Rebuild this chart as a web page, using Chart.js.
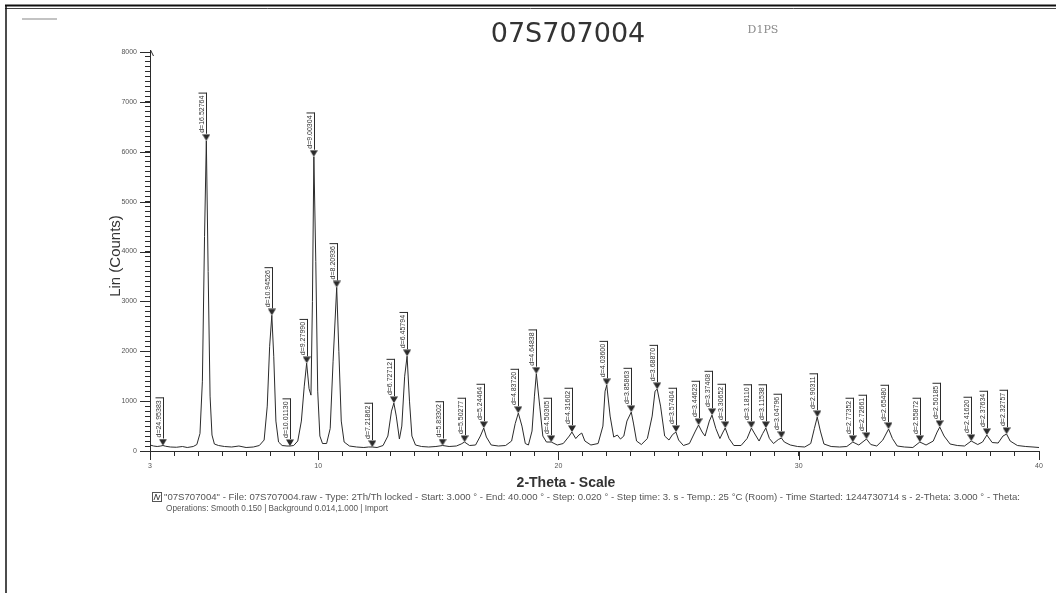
<!DOCTYPE html>
<html>
<head>
<meta charset="utf-8">
<title>07S707004</title>
<script src="https://cdn.jsdelivr.net/npm/chart.js@4/dist/chart.umd.min.js"></script>
<style>
  html, body { margin: 0; padding: 0; background: #ffffff; }
  #wrap { position: relative; width: 1056px; height: 593px; }
  canvas { display: block; }
</style>
</head>
<body>
<div id="wrap"><canvas id="xrd" width="1056" height="593"></canvas></div>
<script>
// ---- data ---------------------------------------------------------------
const sampleName = '07S707004';
const wavelength = 1.5406;           // Cu K-alpha1, Angstrom
const xTickLabels = [3, 10, 20, 30, 40];
const yTickLabels = [0, 1000, 2000, 3000, 4000, 5000, 6000, 7000, 8000];

// measured trace: 2-theta (deg) and Lin (Counts)
const profileTheta = [
  3.00, 3.15, 3.30, 3.45, 3.54, 3.65, 3.85, 4.10, 4.35, 4.55, 4.80, 4.95,
  5.08, 5.18, 5.27, 5.345, 5.42, 5.50, 5.58, 5.68, 5.85, 6.10, 6.40, 6.70,
  7.00, 7.30, 7.55, 7.75, 7.88, 7.98, 8.07, 8.15, 8.24, 8.35, 8.50, 8.70,
  8.83, 8.98, 9.15, 9.30, 9.42, 9.52, 9.62, 9.70, 9.76, 9.82, 9.90, 9.98,
  10.07, 10.18, 10.35, 10.50, 10.62, 10.77, 10.86, 10.96, 11.08, 11.30, 11.60, 11.90,
  12.10, 12.25, 12.45, 12.70, 12.90, 13.05, 13.15, 13.25, 13.38, 13.48, 13.60, 13.70,
  13.80, 13.90, 14.05, 14.30, 14.60, 14.90, 15.18, 15.45, 15.75, 15.95, 16.09, 16.30,
  16.55, 16.75, 16.89, 17.00, 17.20, 17.50, 17.80, 18.05, 18.20, 18.33, 18.48, 18.62,
  18.75, 18.90, 19.00, 19.08, 19.22, 19.35, 19.50, 19.70, 19.95, 20.20, 20.45, 20.56,
  20.72, 20.85, 20.97, 21.10, 21.35, 21.65, 21.85, 21.94, 22.01, 22.15, 22.30, 22.45,
  22.58, 22.72, 22.85, 23.03, 23.12, 23.25, 23.45, 23.70, 23.90, 24.02, 24.11, 24.25,
  24.42, 24.60, 24.75, 24.89, 25.00, 25.20, 25.45, 25.70, 25.83, 25.98, 26.10, 26.28,
  26.39, 26.55, 26.72, 26.85, 26.94, 27.10, 27.30, 27.60, 27.85, 28.03, 28.20, 28.35,
  28.50, 28.63, 28.78, 28.95, 29.15, 29.28, 29.40, 29.65, 29.95, 30.25, 30.50, 30.65,
  30.77, 30.90, 31.05, 31.35, 31.70, 32.00, 32.25, 32.50, 32.82, 33.00, 33.25, 33.50,
  33.74, 33.90, 34.10, 34.40, 34.75, 35.04, 35.30, 35.60, 35.76, 35.87, 36.05, 36.30,
  36.60, 36.90, 37.18, 37.45, 37.65, 37.83, 38.05, 38.30, 38.50, 38.65, 38.80, 39.10,
  39.45, 39.75, 40.00
];
const profileCounts = [
  120, 100, 90, 100, 110, 95, 80, 75, 90, 70, 90, 130,
  350, 1400, 4300, 6220, 3600, 1100, 320, 140, 110, 90, 80, 100,
  70, 80, 110, 220, 900, 2100, 2720, 1900, 600, 180, 110, 100,
  100, 110, 200, 600, 1300, 1760, 1250, 1120, 3000, 5900, 3800, 1200,
  300, 150, 150, 450, 1800, 3280, 2000, 600, 180, 100, 80, 70,
  80, 80, 70, 110, 300, 800, 960, 700, 240, 500, 1500, 1900,
  1000, 300, 120, 90, 80, 90, 110, 90, 100, 140, 180, 110,
  120, 300, 460, 280, 120, 100, 110, 200, 550, 760, 500, 150,
  120, 400, 1100, 1550, 900, 300, 180, 180, 120, 150, 300, 380,
  250, 320, 360, 200, 120, 150, 500, 1200, 1320, 700, 280, 320,
  240, 300, 600, 780, 560, 200, 130, 250, 700, 1200, 1240, 900,
  300, 220, 330, 380, 220, 110, 150, 400, 520, 380, 300, 600,
  720, 450, 250, 380, 460, 250, 110, 110, 250, 460, 320, 200,
  350, 460, 250, 150, 230, 260, 180, 120, 90, 80, 150, 450,
  680, 400, 140, 90, 80, 90, 180, 120, 240, 130, 100, 220,
  440, 250, 100, 80, 70, 180, 120, 200, 380, 480, 300, 140,
  110, 100, 200, 130, 180, 320, 170, 160, 300, 340, 200, 110,
  90, 80, 70
];

// peak search results: d-spacing (Angstrom) and counts at the peak
const peakD = [
  24.95383, 16.52764, 10.94526, 10.01130, 9.27990, 9.00304, 8.20936, 7.21862,
  6.72712, 6.45794, 5.83302, 5.50277, 5.24464, 4.83720, 4.64838, 4.50305,
  4.31602, 4.03600, 3.85863, 3.68870, 3.57404, 3.44623, 3.37408, 3.30652,
  3.18110, 3.11538, 3.04796, 2.90311, 2.77352, 2.72661, 2.65480, 2.55872,
  2.50185, 2.41620, 2.37634, 2.32757
];
const peakCounts = [
  110, 6220, 2720, 100, 1760, 5900, 3280, 80,
  960, 1900, 110, 180, 460, 760, 1550, 180,
  380, 1320, 780, 1240, 380, 520, 720, 460,
  460, 460, 260, 680, 180, 240, 440, 180,
  480, 200, 320, 340
];

const fileInfo = '"07S707004" - File: 07S707004.raw - Type: 2Th/Th locked - Start: 3.000 \u00b0 - End: 40.000 \u00b0 - Step: 0.020 \u00b0 - Step time: 3. s - Temp.: 25 \u00b0C (Room) - Time Started: 1244730714 s - 2-Theta: 3.000 \u00b0 - Theta:';
const operationsInfo = 'Operations: Smooth 0.150 | Background 0.014,1.000 | Import';
const handNote = 'D1PS';

// ---- helpers ------------------------------------------------------------
const FONT = '"Liberation Sans", Arial, sans-serif';
const INK = '#2b2b2b';

function braggTwoTheta(d) {
  return 2 * Math.asin(wavelength / (2 * d)) * 180 / Math.PI;
}

// downward marker whose tip sits at the image centre
function makeMarker() {
  const c = document.createElement('canvas');
  c.width = 8; c.height = 14;
  const g = c.getContext('2d');
  g.fillStyle = INK;
  g.beginPath();
  g.moveTo(0, 0.5); g.lineTo(8, 0.5); g.lineTo(4, 7); g.closePath();
  g.fill();
  return c;
}

const traceData = profileTheta.map((t, i) => ({ x: t, y: profileCounts[i] }));
const peakData = peakD.map((d, i) => ({ x: braggTwoTheta(d), y: peakCounts[i], d: d }));

// ---- decorations drawn around the plot ----------------------------------
const decorations = {
  id: 'decorations',
  beforeDraw(chart) {
    const ctx = chart.ctx;
    ctx.save();
    ctx.fillStyle = '#ffffff';
    ctx.fillRect(0, 0, chart.width, chart.height);
    ctx.restore();
  },
  afterDraw(chart) {
    const ctx = chart.ctx;
    const xs = chart.scales.x, ys = chart.scales.y;
    const ca = chart.chartArea;
    ctx.save();

    // page frame
    ctx.strokeStyle = '#111';
    ctx.lineWidth = 2;
    ctx.beginPath(); ctx.moveTo(5, 5.5); ctx.lineTo(1056, 5.5); ctx.stroke();
    ctx.lineWidth = 1;
    ctx.strokeStyle = '#444';
    ctx.beginPath(); ctx.moveTo(1056, 8.5); ctx.lineTo(5, 8.5); ctx.stroke();
    ctx.strokeStyle = '#111';
    ctx.lineWidth = 1.5;
    ctx.beginPath(); ctx.moveTo(6, 5); ctx.lineTo(6, 593); ctx.stroke();

    // short rule top left
    ctx.strokeStyle = '#888';
    ctx.lineWidth = 1.2;
    ctx.beginPath(); ctx.moveTo(22, 19); ctx.lineTo(57, 19); ctx.stroke();

    // longer ticks at labelled positions
    ctx.strokeStyle = INK;
    ctx.lineWidth = 1;
    xTickLabels.forEach(v => {
      const px = Math.round(xs.getPixelForValue(v)) + 0.5;
      ctx.beginPath(); ctx.moveTo(px, ca.bottom); ctx.lineTo(px, ca.bottom + 9); ctx.stroke();
    });
    yTickLabels.forEach(v => {
      const py = Math.round(ys.getPixelForValue(v)) + 0.5;
      ctx.beginPath(); ctx.moveTo(ca.left, py); ctx.lineTo(ca.left - 10, py); ctx.stroke();
    });
    // arrow head on the count axis
    const top = ys.getPixelForValue(8000);
    ctx.beginPath();
    ctx.moveTo(ca.left + 0.5, top - 2);
    ctx.lineTo(ca.left + 3.5, top + 4);
    ctx.moveTo(ca.left + 0.5, top - 2);
    ctx.lineTo(ca.left + 0.5, top + 4);
    ctx.stroke();

    // title
    ctx.fillStyle = '#333';
    ctx.textAlign = 'center';
    ctx.textBaseline = 'alphabetic';
    ctx.font = '27px "DejaVu Sans", sans-serif';
    ctx.fillText(sampleName, 568, 42);

    // handwritten note
    ctx.fillStyle = '#8a8a8a';
    ctx.font = '11px "DejaVu Serif", serif';
    ctx.fillText(handNote, 763, 33);

    // axis titles
    ctx.fillStyle = '#333';
    ctx.font = '15px ' + FONT;
    ctx.save();
    ctx.translate(116, 256);
    ctx.rotate(-Math.PI / 2);
    ctx.textBaseline = 'middle';
    ctx.fillText('Lin (Counts)', 0, 0);
    ctx.restore();

    ctx.font = 'bold 14px ' + FONT;
    ctx.textBaseline = 'middle';
    ctx.fillText('2-Theta - Scale', 566, 483);

    // scan legend
    ctx.strokeStyle = '#555';
    ctx.lineWidth = 1;
    ctx.strokeRect(152.5, 492.5, 9, 9);
    ctx.beginPath();
    ctx.moveTo(154, 500); ctx.lineTo(156, 494); ctx.lineTo(158, 500); ctx.lineTo(160, 495);
    ctx.stroke();

    ctx.fillStyle = '#555';
    ctx.textAlign = 'left';
    ctx.textBaseline = 'alphabetic';
    ctx.font = '9.8px ' + FONT;
    ctx.fillText(fileInfo, 164, 500, 856);
    ctx.fillText(operationsInfo, 166, 511, 222);

    ctx.restore();
  }
};

// ---- peak sticks and d-spacing labels -----------------------------------
const peakLabels = {
  id: 'peakLabels',
  afterDatasetsDraw(chart) {
    const ctx = chart.ctx;
    const xs = chart.scales.x, ys = chart.scales.y;
    ctx.save();
    ctx.font = '7px ' + FONT;
    ctx.fillStyle = '#333';
    ctx.strokeStyle = INK;
    ctx.lineWidth = 1;
    peakData.forEach(p => {
      const px = Math.round(xs.getPixelForValue(p.x)) + 0.5;
      const py = ys.getPixelForValue(p.y);
      const text = 'd=' + p.d.toFixed(5);
      const w = ctx.measureText(text).width;
      const base = py - 7;
      const topY = base - w - 4;
      ctx.beginPath();
      ctx.moveTo(px, base);
      ctx.lineTo(px, topY);
      ctx.moveTo(px, topY + 0.5);
      ctx.lineTo(px - 8, topY + 0.5);
      ctx.stroke();
      ctx.save();
      ctx.translate(px - 1, base - 1);
      ctx.rotate(-Math.PI / 2);
      ctx.textAlign = 'left';
      ctx.textBaseline = 'bottom';
      ctx.fillText(text, 0, 0);
      ctx.restore();
    });
    ctx.restore();
  }
};

// ---- chart --------------------------------------------------------------
const chart = new Chart(document.getElementById('xrd'), {
  data: {
    datasets: [
      {
        type: 'scatter',
        label: 'peaks',
        data: peakData,
        pointStyle: makeMarker(),
        pointRadius: 4,
        order: 1
      },
      {
        type: 'line',
        label: sampleName,
        data: traceData,
        borderColor: INK,
        borderWidth: 1,
        pointRadius: 0,
        tension: 0,
        fill: false,
        order: 2
      }
    ]
  },
  options: {
    responsive: false,
    animation: false,
    devicePixelRatio: 1,
    layout: { padding: { left: 110, right: 17, top: 52, bottom: 120 } },
    plugins: {
      legend: { display: false },
      tooltip: { enabled: false },
      title: { display: false }
    },
    scales: {
      x: {
        type: 'linear',
        min: 3,
        max: 40,
        afterFit(scale) { scale.height = 22; },
        ticks: {
          stepSize: 1,
          autoSkip: false,
          maxRotation: 0,
          padding: 6,
          color: '#555',
          font: { family: FONT, size: 7 },
          callback: v => (xTickLabels.includes(v) ? String(v) : '')
        },
        grid: {
          display: true,
          drawOnChartArea: false,
          drawTicks: true,
          tickLength: 5,
          tickColor: INK,
          color: INK
        },
        border: { display: true, color: INK, width: 1 }
      },
      y: {
        type: 'linear',
        min: 0,
        max: 8000,
        afterFit(scale) { scale.width = 40; },
        ticks: {
          stepSize: 100,
          autoSkip: false,
          padding: 8,
          color: '#555',
          font: { family: FONT, size: 7 },
          callback: v => (yTickLabels.includes(v) ? String(v) : '')
        },
        grid: {
          display: true,
          drawOnChartArea: false,
          drawTicks: true,
          tickLength: 5,
          tickColor: INK,
          color: INK
        },
        border: { display: true, color: INK, width: 1 }
      }
    }
  },
  plugins: [decorations, peakLabels]
});
</script>
</body>
</html>
